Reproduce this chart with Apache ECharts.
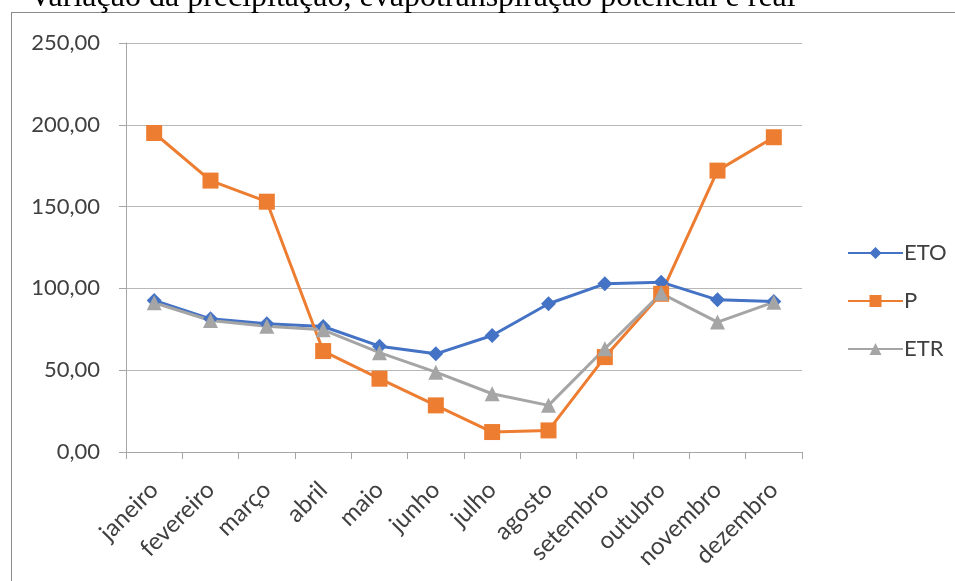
<!DOCTYPE html>
<html>
<head>
<meta charset="utf-8">
<script src="https://cdn.jsdelivr.net/npm/echarts@6/dist/echarts.min.js"></script>
<style>
html, body { margin: 0; padding: 0; background: #fff; }
#frame { position: absolute; left: 11px; top: 12px; width: 960px; height: 600px;
  border-left: 1px solid #8a8a8a; border-top: 1px solid #8a8a8a; }
#container { position: absolute; left: 0; top: 0; width: 955px; height: 581px; }
</style>
</head>
<body>
<div id="frame"></div>
<div id="container"></div>
<script>
// meses
var meses = ['janeiro', 'fevereiro', 'março', 'abril', 'maio', 'junho',
  'julho', 'agosto', 'setembro', 'outubro', 'novembro', 'dezembro'];

// evapotranspiração potencial
var eto = [92.6, 81.4, 78.4, 76.7, 64.7, 60.0, 71.2, 90.6, 102.8, 103.8, 93.0, 92.0];
// precipitação
var p = [195.0, 165.9, 153.0, 61.7, 44.8, 28.5, 12.2, 13.2, 58.0, 96.7, 172.0, 192.4];
// evapotranspiração real
var etr = [91.2, 80.4, 76.9, 74.7, 60.7, 48.8, 35.6, 28.5, 63.1, 97.0, 79.4, 91.6];

var fonte = 'Lato, "Open Sans", sans-serif';

var myChart = echarts.init(document.getElementById('container'));
var option = {
  animation: false,
  title: {
    text: 'Variação da precipitação, evapotranspiração potencial e real',
    left: 24,
    top: -23,
    textStyle: { fontFamily: '"Liberation Serif", serif', fontWeight: 'normal', fontSize: 32, color: '#000' }
  },
  legend: {
    orient: 'vertical',
    left: 842,
    top: 237,
    itemWidth: 55,
    itemHeight: 15,
    itemGap: 26,
    textStyle: { fontFamily: fonte, fontSize: 22, color: '#404040', padding: [0, 0, 0, -4] },
    data: ['ETO', 'P', 'ETR']
  },
  grid: { left: 126, right: 153, top: 43, bottom: 129 },
  xAxis: {
    type: 'category',
    data: meses,
    boundaryGap: true,
    axisLine: { lineStyle: { color: '#a6a6a6', width: 1 } },
    axisTick: { show: true, length: 7, lineStyle: { color: '#a6a6a6' } },
    axisLabel: { rotate: 45, margin: 34, fontFamily: fonte, fontSize: 24, color: '#404040', interval: 0 }
  },
  yAxis: {
    type: 'value',
    min: 0,
    max: 250,
    interval: 50,
    axisLine: { show: true, lineStyle: { color: '#a6a6a6' } },
    axisTick: { show: true, length: 7, lineStyle: { color: '#a6a6a6' } },
    splitLine: { lineStyle: { color: '#b8b8b8', width: 1 } },
    axisLabel: {
      margin: 26,
      fontFamily: fonte, fontSize: 22, color: '#404040',
      formatter: function (v) { return v.toFixed(2).replace('.', ','); }
    }
  },
  series: [
    {
      name: 'ETO', type: 'line', data: eto,
      symbol: 'diamond', symbolSize: 15,
      lineStyle: { color: '#4472C4', width: 3 },
      itemStyle: { color: '#4472C4' }
    },
    {
      name: 'P', type: 'line', data: p,
      symbol: 'rect', symbolSize: 16,
      lineStyle: { color: '#ED7D31', width: 3 },
      itemStyle: { color: '#ED7D31' }
    },
    {
      name: 'ETR', type: 'line', data: etr,
      symbol: 'triangle', symbolSize: 15,
      lineStyle: { color: '#A5A5A5', width: 3 },
      itemStyle: { color: '#A5A5A5' }
    }
  ]
};
myChart.setOption(option);
</script>
</body>
</html>
